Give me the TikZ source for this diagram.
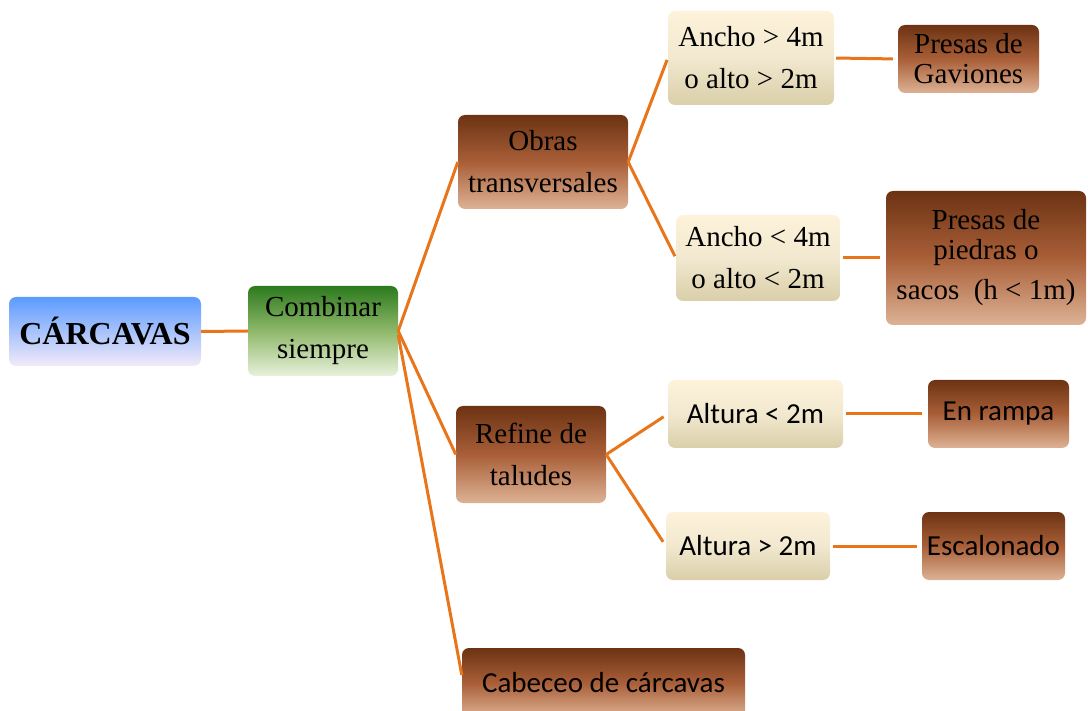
\documentclass[tikz,border=0pt]{standalone}
\usepackage{fontspec}
\setmainfont{Liberation Serif}
\newfontfamily\calfont{Carlito}
\usetikzlibrary{positioning}
\definecolor{lineor}{HTML}{E8751A}
\definecolor{bluetop}{HTML}{5B9BFF}
\definecolor{bluebot}{HTML}{F3EAF8}
\definecolor{greentop}{HTML}{2C7A1E}
\definecolor{greenmid}{HTML}{8FB86A}
\definecolor{greenbot}{HTML}{E8F1DC}
\definecolor{browntop}{HTML}{6C3313}
\definecolor{brownmid}{HTML}{A95F38}
\definecolor{brownbot}{HTML}{DDB295}
\definecolor{creamtop}{HTML}{FEF3DA}
\definecolor{creammid}{HTML}{F1E8CF}
\definecolor{creambot}{HTML}{DACFA9}
\tikzset{
  box/.style={rounded corners=7pt, inner sep=0pt, align=center, text=black},
  bluebox/.style={box, top color=bluetop, bottom color=bluebot},
  greenbox/.style={box, top color=greentop, bottom color=greenbot, middle color=greenmid},
  brownbox/.style={box, top color=browntop, bottom color=brownbot, middle color=brownmid},
  creambox/.style={box, top color=creamtop, bottom color=creambot, middle color=creammid},
  serif/.style={font=\fontsize{29}{42}\selectfont},
  sans/.style={font=\calfont\fontsize{29}{36}\selectfont},
  conn/.style={draw=lineor, line width=3pt},
}
\begin{document}
\begin{tikzpicture}[x=1pt,y=-1pt]
\useasboundingbox (0,0) rectangle (1088,711);
\clip (0,0) rectangle (1088,711);
% nodes
\node[bluebox, minimum width=192pt, minimum height=69pt, font=\bfseries\fontsize{32}{36}\selectfont] (car) at (105,331.5) {CÁRCAVAS};
\node[greenbox, serif, minimum width=150pt, minimum height=90pt] (comb) at (323,331) {Combinar\\siempre};
\node[brownbox, serif, minimum width=170pt, minimum height=94pt] (obras) at (543,162) {Obras\\transversales};
\node[brownbox, serif, minimum width=150pt, minimum height=97pt] (refine) at (531,454.5) {Refine de\\taludes};
\node[brownbox, sans, minimum width=283pt, minimum height=70pt] (cab) at (603.5,683) {Cabeceo de cárcavas};
\node[creambox, serif, minimum width=166pt, minimum height=94pt] (amay) at (751,58) {Ancho > 4m\\o alto > 2m};
\node[brownbox, minimum width=141pt, minimum height=68pt, font=\fontsize{29}{30}\selectfont] (gav) at (968.5,59) {Presas de\\Gaviones};
\node[creambox, serif, minimum width=164pt, minimum height=86pt] (amen) at (758,258) {Ancho < 4m\\o alto < 2m};
\node[brownbox, minimum width=200pt, minimum height=134pt, font=\fontsize{29}{30}\selectfont] (pie) at (986,258) {Presas de\\piedras o\\[10pt]sacos \ (h < 1m)};
\node[creambox, sans, minimum width=175pt, minimum height=68pt] (amen2) at (755.5,414) {Altura < 2m};
\node[creambox, sans, minimum width=164pt, minimum height=68pt] (amay2) at (748,546) {Altura > 2m};
\node[brownbox, sans, minimum width=141pt, minimum height=68pt] (ram) at (998.5,414) {En rampa};
\node[brownbox, sans, minimum width=143pt, minimum height=68pt] (esc) at (993.5,546) {Escalonado};
% connectors
\draw[conn] (car.east) -- (comb.west);
\draw[conn] (comb.east) -- (obras.west);
\draw[conn] (comb.east) -- (refine.west);
\draw[conn] ([yshift=-4pt]comb.east) -- ([yshift=8pt]cab.west);
\draw[conn, shorten >=2pt] (obras.east) -- (amay.west);
\draw[conn, shorten >=2pt] (obras.east) -- (amen.west);
\draw[conn, shorten <=2pt, shorten >=5pt] (amay.east) -- (gav.west);
\draw[conn, shorten <=3pt, shorten >=6pt] (amen.east) -- (pie.west);
\draw[conn, shorten >=5pt] (refine.east) -- (amen2.west);
\draw[conn, shorten >=5pt] (refine.east) -- (amay2.west);
\draw[conn, shorten <=3pt, shorten >=6pt] (amen2.east) -- (ram.west);
\draw[conn, shorten <=3pt, shorten >=5pt] (amay2.east) -- (esc.west);
\end{tikzpicture}
\end{document}
